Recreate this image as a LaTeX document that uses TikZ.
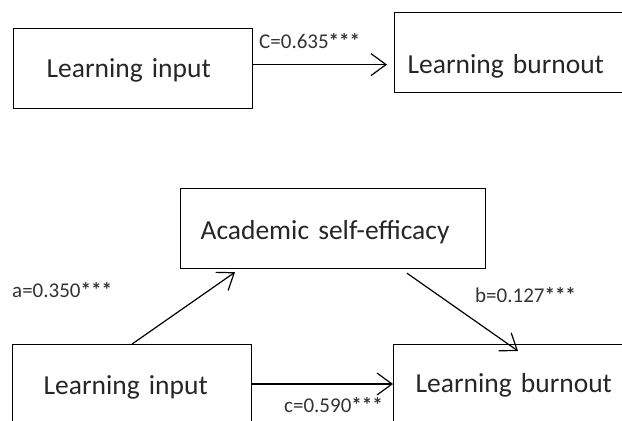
\documentclass[tikz,border=0pt]{standalone}
\usepackage{fontspec}
\setmainfont{Carlito}
\usepackage{tikz}
\usetikzlibrary{arrows.meta, calc}

\newcommand{\signif}{\textbf{***}}

\tikzset{
  caixa/.style={draw, line width=1.2bp, anchor=north west, align=left,
    inner ysep=0pt, text=black!85, font=\fontsize{27.5bp}{33bp}\selectfont},
  coef/.style={anchor=base west, inner sep=0pt, text=black!80,
    font=\fontsize{21bp}{25bp}\selectfont},
  seta/.style={-{Straight Barb[length=15bp,width=22bp]}, line width=1.2bp}
}

\begin{document}
\begin{tikzpicture}[x=1bp, y=-1bp]
\useasboundingbox (0,0) rectangle (622,420);

% Efeito direto
\node[caixa, text width=173bp, inner xsep=33bp, text height=49bp, text depth=31bp] (in1) at (13,28) {Learning input};
\node[caixa, text width=260bp, inner xsep=13bp, text height=61bp, text depth=19bp] (out1) at (394,12) {Learning burnout};

\draw[seta, shorten >=7bp] ([yshift=4bp]in1.east) -- ([yshift=4bp]in1.east -| out1.west);
\node[coef] (lc) at (259,48) {C=0.635\signif};

% Mediação
\node[caixa, text width=265bp, inner xsep=20bp, text height=51bp, text depth=29bp] (eff) at (180,188) {Academic self-efficacy};
\node[caixa, text width=177bp, inner xsep=31bp, text height=50bp, text depth=50bp] (in2) at (12,344) {Learning input};
\node[caixa, text width=260bp, inner xsep=22bp, text height=48bp, text depth=52bp] (out2) at (393,344) {Learning burnout};

\draw[seta] (in2.north) -- ($(eff.south west)+(55,3)$);
\draw[seta] ($(eff.south west)+(227,4)$) -- ($(out2.north west)+(125,7)$);
\draw[seta] ($(in2.north east)+(0,40)$) -- ($(out2.north west)+(0,40)$);

\node[coef] (la) at (12,297) {a=0.350\signif};
\node[coef] (lb) at (475,302) {b=0.127\signif};
\node[coef] (lcc) at (284,412) {c=0.590\signif};

\end{tikzpicture}
\end{document}
